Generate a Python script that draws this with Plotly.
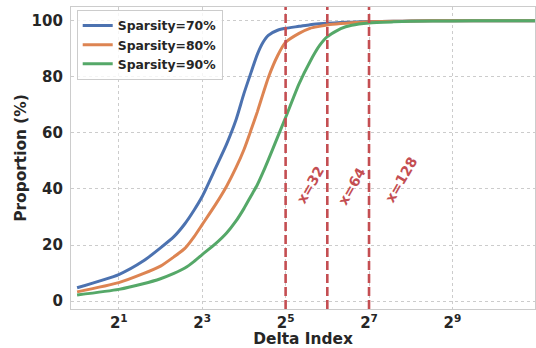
import math
import plotly.graph_objects as go

delta_index = [1, 2, 3, 4, 5, 6, 7, 8, 10, 12, 14, 16, 18, 20, 22, 24, 28, 32, 40, 48,
               56, 64, 80, 96, 128, 192, 256, 512, 1024, 2048]
sparsity_70 = [4.8, 9.5, 14.3, 19.0, 23.0, 27.6, 32.5, 37.3, 47.5, 56.0, 64.5, 74.0, 81.5, 88.0,
               92.3, 94.8, 96.6, 97.3, 98.0, 98.6, 98.9, 99.1, 99.35, 99.5, 99.7, 99.8, 99.9,
               100.0, 100.0, 100.0]
sparsity_80 = [3.3, 6.6, 9.8, 12.5, 15.8, 18.8, 23.0, 27.3, 34.5, 41.0, 47.5, 54.0, 61.0, 67.5,
               74.0, 79.7, 87.5, 92.3, 95.5, 97.3, 98.0, 98.5, 99.0, 99.3, 99.6, 99.8, 99.9,
               100.0, 100.0, 100.0]
sparsity_90 = [2.2, 4.2, 6.2, 8.0, 9.9, 11.8, 14.2, 16.6, 20.5, 24.3, 28.5, 33.0, 37.5, 41.5,
               46.0, 50.4, 58.5, 65.5, 77.5, 85.4, 91.0, 94.3, 97.2, 98.4, 99.2, 99.6, 99.8,
               99.95, 100.0, 100.0]
series_names = ["Sparsity=70%", "Sparsity=80%", "Sparsity=90%"]
series_colors = ["#4c72b0", "#dd8452", "#55a868"]

ref_lines = [32, 64, 128]
ref_labels = ["x=32", "x=64", "x=128"]
ref_label_x = [48, 96, 217]
ref_label_y = [41.5, 41.2, 43.3]

x_tickvals = [2, 8, 32, 128, 512]
x_ticktext = ["2<sup>1</sup>", "2<sup>3</sup>", "2<sup>5</sup>", "2<sup>7</sup>", "2<sup>9</sup>"]
y_tickvals = [0, 20, 40, 60, 80, 100]

FONT = "DejaVu Sans"
TXT = "#262626"
RED = "#c44e52"

fig = go.Figure()
for name, vals, col in zip(series_names, [sparsity_70, sparsity_80, sparsity_90], series_colors):
    fig.add_trace(go.Scatter(x=delta_index, y=vals, mode="lines", name=name,
                             line=dict(color=col, width=3, shape="spline", smoothing=0.6)))

for xv in ref_lines:
    fig.add_shape(type="line", xref="x", yref="paper", x0=xv, x1=xv,
                  y0=0, y1=1, line=dict(color=RED, width=2.6, dash="9px,4px"), layer="above")

for lx, ly, lt in zip(ref_label_x, ref_label_y, ref_labels):
    fig.add_annotation(x=math.log10(lx), y=ly, xref="x", yref="y", text=lt, showarrow=False,
                       textangle=-60, font=dict(family=FONT, size=14, color=RED, weight="bold"),
                       xanchor="center", yanchor="middle")

fig.update_layout(
    width=536, height=348,
    margin=dict(l=71, r=0.5, t=6.7, b=38.5),
    paper_bgcolor="white", plot_bgcolor="white",
    font=dict(family=FONT, color=TXT),
    legend=dict(x=0.0123, y=0.99, xanchor="left", yanchor="top",
                bgcolor="rgba(255,255,255,0.8)", bordercolor="#cccccc", borderwidth=1,
                font=dict(family=FONT, size=12.4, color=TXT, weight="bold"),
                tracegroupgap=0),
    showlegend=True,
)
fig.update_xaxes(type="log", range=[math.log10(2 ** -0.146), math.log10(2 ** 10.98)],
                 tickvals=x_tickvals, ticktext=x_ticktext, ticks="", automargin=False,
                 tickfont=dict(family=FONT, size=15, color=TXT, weight="bold"),
                 showgrid=True, gridcolor="#cccccc", griddash="dot", gridwidth=1,
                 showline=True, linecolor="#cccccc", linewidth=1.25, mirror=True,
                 zeroline=False,
                 title=dict(text="Delta Index", standoff=6,
                            font=dict(family=FONT, size=15.4, color=TXT, weight="bold")))
fig.update_yaxes(range=[-2.8, 104.9], tickvals=y_tickvals, ticks="", automargin=False,
                 tickfont=dict(family=FONT, size=15, color=TXT, weight="bold"),
                 showgrid=True, gridcolor="#cccccc", griddash="dot", gridwidth=1,
                 showline=True, linecolor="#cccccc", linewidth=1.25, mirror=True,
                 zeroline=False, ticklabelstandoff=4,
                 title=dict(text="Proportion (%)", standoff=1,
                            font=dict(family=FONT, size=15.4, color=TXT, weight="bold")))

fig.write_html("out.html", config={"displayModeBar": False},
               post_script="document.body.style.margin='0';document.body.style.padding='0';")
